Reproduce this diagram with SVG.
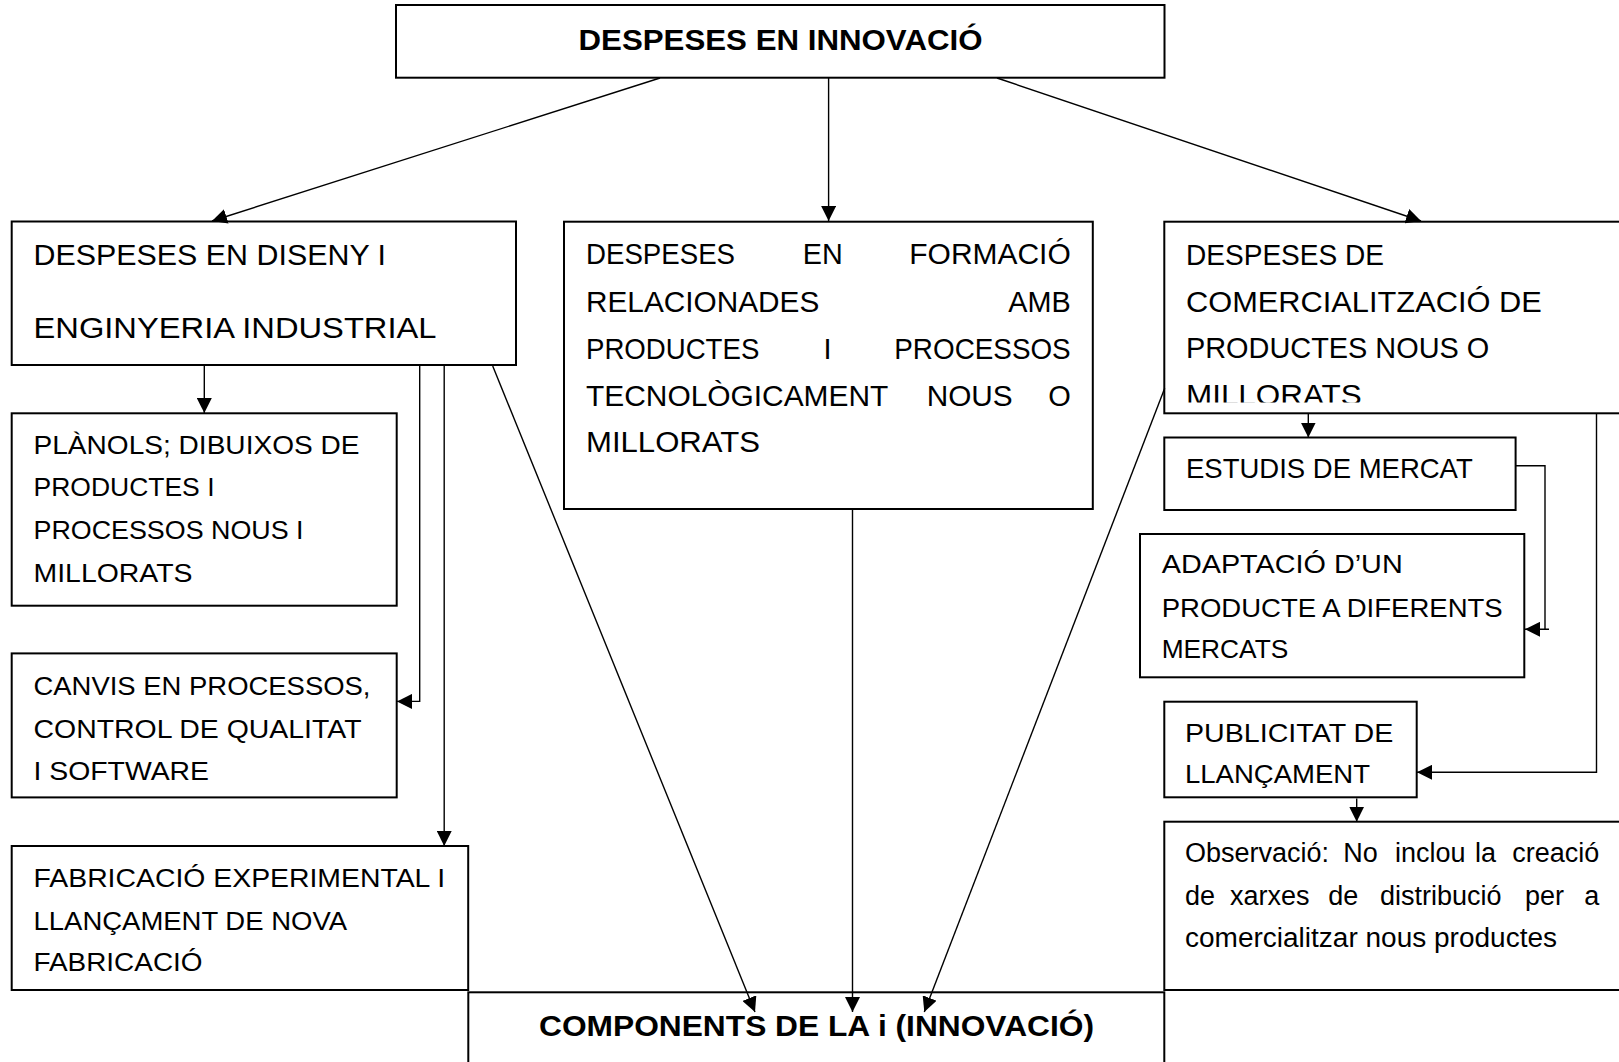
<svg xmlns="http://www.w3.org/2000/svg" width="1619" height="1062" viewBox="0 0 1619 1062">
<style>
.box{fill:#fff;stroke:#000;stroke-width:2}
.t{font-family:"Liberation Sans",Arial,sans-serif;font-size:29px;fill:#000}
.s{font-size:26px}
.m{font-size:28px}
.o{font-size:27px}
.b{font-weight:bold}
.c{fill:none;stroke:#000;stroke-width:1.4}
</style>
<defs>
<marker id="ah" markerUnits="userSpaceOnUse" markerWidth="15" markerHeight="15" viewBox="0 0 15 15" refX="15" refY="7.5" orient="auto">
<path d="M0,0 L15,7.5 L0,15 z" fill="#000"/>
</marker>
<clipPath id="clipCom"><rect x="1164" y="221" width="460" height="181.5"/></clipPath>
</defs>
<rect width="1619" height="1062" fill="#fff"/>

<g id="n-despeses-innovacio">
<rect class="box" x="396" y="5" width="768.5" height="72.7"/>
<text class="t b" x="578.5" y="50" textLength="404" lengthAdjust="spacingAndGlyphs">DESPESES EN INNOVACIÓ</text>
</g>

<g id="n-diseny">
<rect class="box" x="11.7" y="221.5" width="504.3" height="143.5"/>
<text class="t" x="33.5" y="265" textLength="352.5" lengthAdjust="spacingAndGlyphs">DESPESES EN DISENY I</text>
<text class="t" x="33.5" y="338" textLength="403" lengthAdjust="spacingAndGlyphs">ENGINYERIA  INDUSTRIAL</text>
</g>

<g id="n-planols">
<rect class="box" x="11.7" y="413.3" width="385" height="192.4"/>
<text class="t s" x="33.5" y="454" textLength="326" lengthAdjust="spacingAndGlyphs">PLÀNOLS; DIBUIXOS DE</text>
<text class="t s" x="33.5" y="496" textLength="181" lengthAdjust="spacingAndGlyphs">PRODUCTES I</text>
<text class="t s" x="33.5" y="538.5" textLength="270" lengthAdjust="spacingAndGlyphs">PROCESSOS NOUS I</text>
<text class="t s" x="33.5" y="581.5" textLength="159" lengthAdjust="spacingAndGlyphs">MILLORATS</text>
</g>

<g id="n-canvis">
<rect class="box" x="11.7" y="653.4" width="385" height="144"/>
<text class="t s" x="33.5" y="695.3" textLength="337" lengthAdjust="spacingAndGlyphs">CANVIS EN  PROCESSOS,</text>
<text class="t s" x="33.5" y="737.8" textLength="328" lengthAdjust="spacingAndGlyphs">CONTROL DE QUALITAT</text>
<text class="t s" x="33.5" y="779.6" textLength="175.5" lengthAdjust="spacingAndGlyphs">I SOFTWARE</text>
</g>

<g id="n-fabricacio">
<rect class="box" x="11.7" y="846" width="456.5" height="144"/>
<text class="t s" x="33.5" y="887" textLength="411.6" lengthAdjust="spacingAndGlyphs">FABRICACIÓ EXPERIMENTAL I</text>
<text class="t s" x="33.5" y="930" textLength="313.5" lengthAdjust="spacingAndGlyphs">LLANÇAMENT DE NOVA</text>
<text class="t s" x="33.5" y="971" textLength="169" lengthAdjust="spacingAndGlyphs">FABRICACIÓ</text>
</g>

<g id="n-components">
<rect class="box" x="468.3" y="992.3" width="696" height="100"/>
<text class="t b" x="539" y="1036" textLength="555" lengthAdjust="spacingAndGlyphs">COMPONENTS DE LA i (INNOVACIÓ)</text>
</g>

<g id="n-formacio">
<rect class="box" x="564" y="221.7" width="528.8" height="287.3"/>
<text class="t" x="586" y="264.3" textLength="149" lengthAdjust="spacingAndGlyphs">DESPESES</text>
<text class="t" x="802.7" y="264.3" textLength="40" lengthAdjust="spacingAndGlyphs">EN</text>
<text class="t" x="909.3" y="264.3" textLength="161.4" lengthAdjust="spacingAndGlyphs">FORMACIÓ</text>
<text class="t" x="586" y="311.7" textLength="233.3" lengthAdjust="spacingAndGlyphs">RELACIONADES</text>
<text class="t" x="1008.3" y="311.7" textLength="62.4" lengthAdjust="spacingAndGlyphs">AMB</text>
<text class="t" x="586" y="359" textLength="173.3" lengthAdjust="spacingAndGlyphs">PRODUCTES</text>
<text class="t" x="827.5" y="359" text-anchor="middle">I</text>
<text class="t" x="894.3" y="359" textLength="176.4" lengthAdjust="spacingAndGlyphs">PROCESSOS</text>
<text class="t" x="586" y="405.7" textLength="302.3" lengthAdjust="spacingAndGlyphs">TECNOLÒGICAMENT</text>
<text class="t" x="926.7" y="405.7" textLength="86" lengthAdjust="spacingAndGlyphs">NOUS</text>
<text class="t" x="1070.7" y="405.7" text-anchor="end">O</text>
<text class="t" x="586" y="452.3" textLength="174" lengthAdjust="spacingAndGlyphs">MILLORATS</text>
</g>

<g id="n-comercialitzacio">
<rect class="box" x="1164.3" y="221.7" width="500" height="191.6"/>
<g clip-path="url(#clipCom)">
<text class="t" x="1186" y="265" textLength="198" lengthAdjust="spacingAndGlyphs">DESPESES DE</text>
<text class="t" x="1186" y="311.7" textLength="355.7" lengthAdjust="spacingAndGlyphs">COMERCIALITZACIÓ DE</text>
<text class="t" x="1186" y="358.3" textLength="303.3" lengthAdjust="spacingAndGlyphs">PRODUCTES NOUS O</text>
<text class="t" x="1186" y="405.3" textLength="175.7" lengthAdjust="spacingAndGlyphs">MILLORATS</text>
</g>
</g>

<g id="n-estudis">
<rect class="box" x="1164.3" y="437.5" width="351.3" height="72.5"/>
<text class="t m" x="1186" y="478.3" textLength="286.7" lengthAdjust="spacingAndGlyphs">ESTUDIS DE MERCAT</text>
</g>

<g id="n-adaptacio">
<rect class="box" x="1140" y="534" width="384.3" height="143.3"/>
<text class="t s" x="1161.7" y="573.3" textLength="241" lengthAdjust="spacingAndGlyphs">ADAPTACIÓ  D’UN</text>
<text class="t s" x="1161.7" y="616.7" textLength="341" lengthAdjust="spacingAndGlyphs">PRODUCTE  A DIFERENTS</text>
<text class="t s" x="1161.7" y="658.3" textLength="126.6" lengthAdjust="spacingAndGlyphs">MERCATS</text>
</g>

<g id="n-publicitat">
<rect class="box" x="1164.3" y="701.7" width="252.4" height="95.6"/>
<text class="t s" x="1185" y="741.7" textLength="208.3" lengthAdjust="spacingAndGlyphs">PUBLICITAT DE</text>
<text class="t s" x="1185" y="783.3" textLength="185" lengthAdjust="spacingAndGlyphs">LLANÇAMENT</text>
</g>

<g id="n-observacio">
<rect class="box" x="1164.3" y="821.7" width="500" height="168.3"/>
<text class="t o" y="861.7"><tspan x="1185">Observació:</tspan><tspan x="1343.3">No</tspan><tspan x="1395">inclou</tspan><tspan x="1475">la</tspan><tspan x="1599.3" text-anchor="end">creació</tspan></text>
<text class="t o" y="905"><tspan x="1185">de</tspan><tspan x="1230">xarxes</tspan><tspan x="1328.3">de</tspan><tspan x="1380">distribució</tspan><tspan x="1525">per</tspan><tspan x="1599.3" text-anchor="end">a</tspan></text>
<text class="t o" x="1185" y="946.7" textLength="372" lengthAdjust="spacingAndGlyphs">comercialitzar nous productes</text>
</g>

<g id="connectors">
<line class="c" x1="660" y1="78" x2="212" y2="221" marker-end="url(#ah)"/>
<line class="c" x1="828.6" y1="78" x2="828.6" y2="221" marker-end="url(#ah)"/>
<line class="c" x1="997" y1="78" x2="1421" y2="221" marker-end="url(#ah)"/>
<line class="c" x1="204.3" y1="366" x2="204.3" y2="413" marker-end="url(#ah)"/>
<path class="c" d="M419.7 366 V701.4 H397" marker-end="url(#ah)"/>
<line class="c" x1="444.2" y1="366" x2="444.2" y2="846" marker-end="url(#ah)"/>
<line class="c" x1="492.7" y1="366" x2="755" y2="1012" marker-end="url(#ah)"/>
<line class="c" x1="852.5" y1="510" x2="852.5" y2="1012" marker-end="url(#ah)"/>
<line class="c" x1="1164.7" y1="388.3" x2="924.3" y2="1012" marker-end="url(#ah)"/>
<line class="c" x1="1308.3" y1="414" x2="1308.3" y2="437.5" marker-end="url(#ah)"/>
<path class="c" d="M1516 465.7 H1545 V629.3 M1549 629.3 H1525" marker-end="url(#ah)"/>
<path class="c" d="M1596.5 414 V772.3 H1417" marker-end="url(#ah)"/>
<line class="c" x1="1356.7" y1="798.5" x2="1356.7" y2="821.7" marker-end="url(#ah)"/>
</g>
</svg>
